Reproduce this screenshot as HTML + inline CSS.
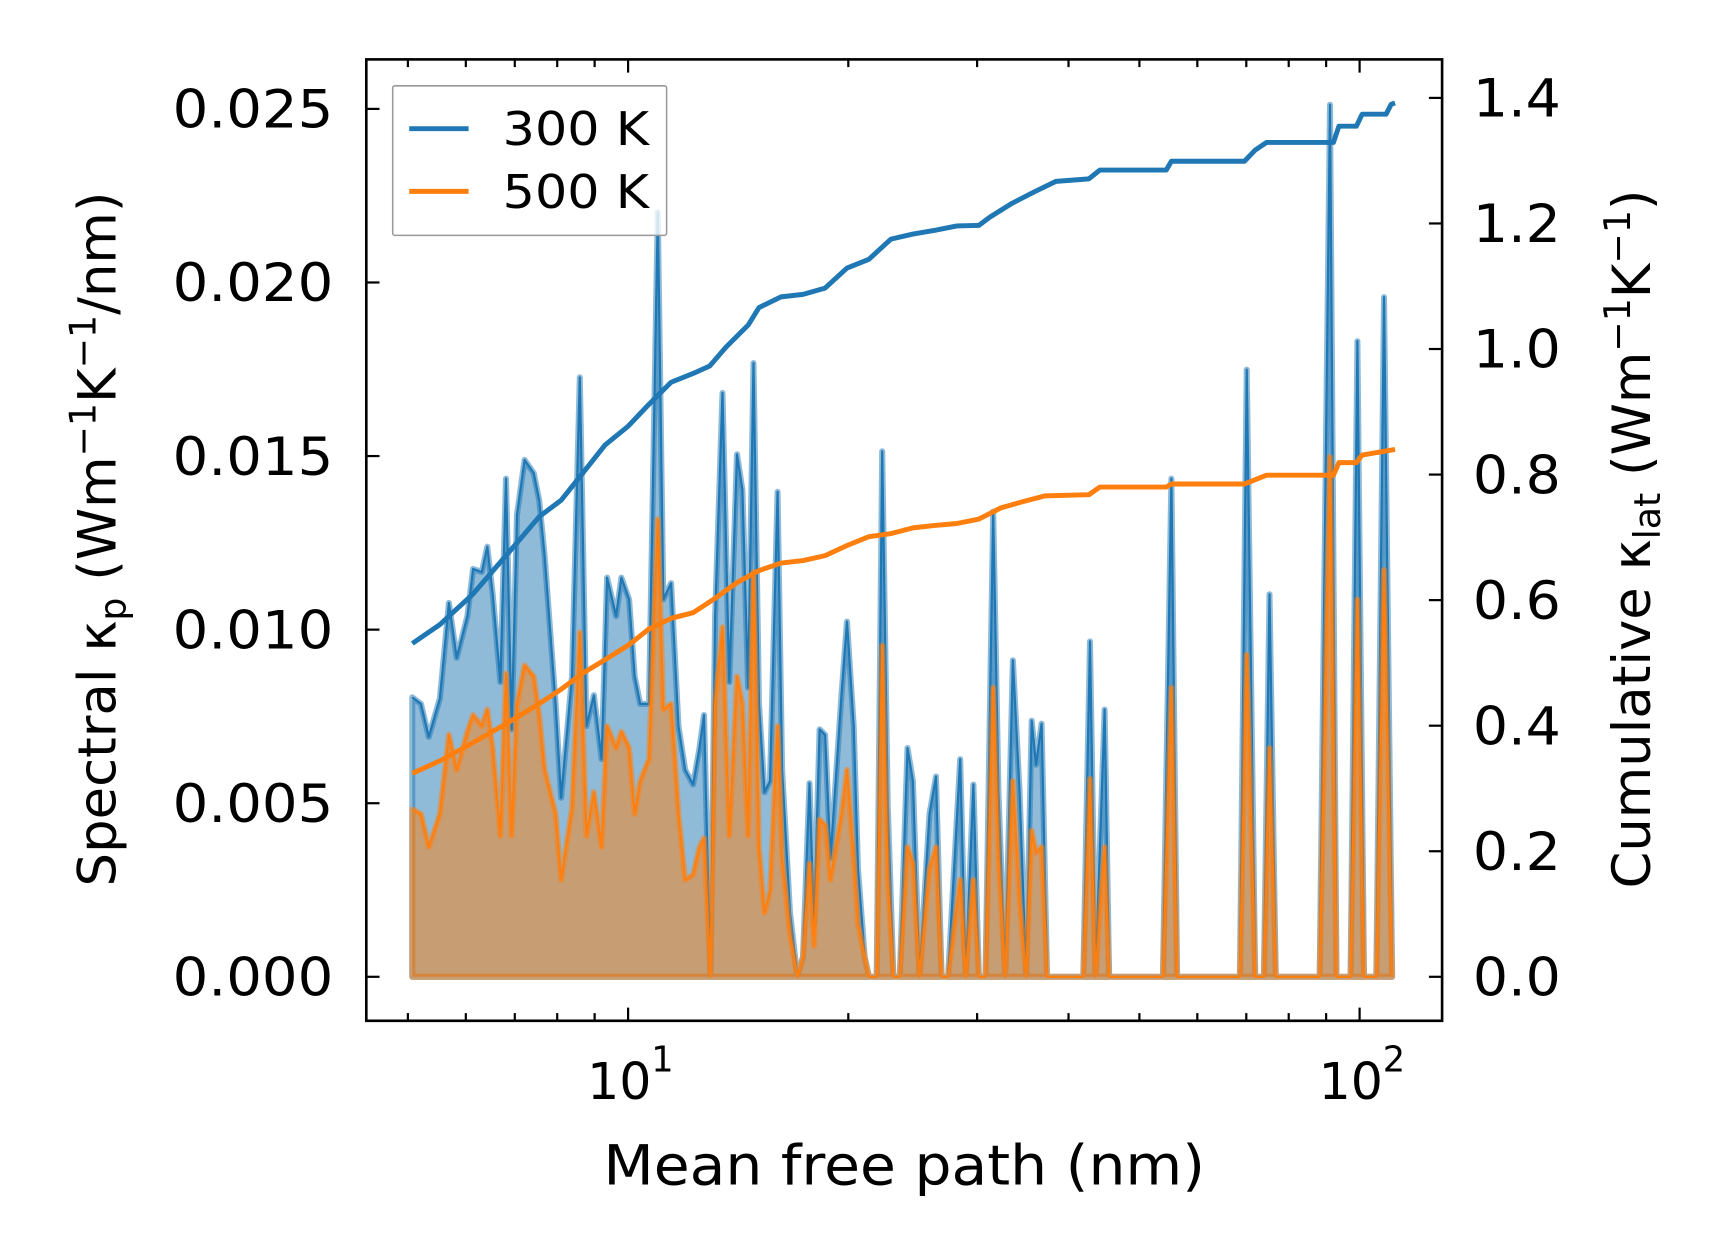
<!DOCTYPE html>
<html><head><meta charset="utf-8"><style>
html,body{margin:0;padding:0;background:#fff}
svg{display:block;font-family:"DejaVu Sans","Liberation Sans",sans-serif}
</style></head><body>
<svg id="chart" width="1716" height="1254" viewBox="0 0 1560 1140" xmlns="http://www.w3.org/2000/svg">
<g id="plot"></g>
<g id="axes"></g>
</svg>
<script>
const mfpSpec = [5.07,5.21,5.34,5.53,5.69,5.83,6.03,6.14,6.31,6.42,6.53,6.69,6.81,6.93,7.05,7.22,7.43,7.56,7.69,7.96,8.10,8.38,8.59,8.77,8.98,9.20,9.36,9.63,9.79,10.03,10.21,10.39,10.68,10.98,11.17,11.45,11.72,11.97,12.27,12.52,12.70,12.96,13.15,13.46,13.75,14.09,14.33,14.59,14.84,15.10,15.36,15.63,16.01,16.24,16.65,17.04,17.34,17.70,17.95,18.27,18.59,18.91,19.58,19.92,20.34,20.62,21.06,21.34,21.87,22.25,22.64,23.05,23.52,24.10,24.51,25.02,25.82,26.36,26.83,27.38,28.44,28.94,29.65,30.17,30.80,31.56,32.09,32.77,33.58,34.29,35.01,35.62,36.12,36.75,37.39,38.44,41.91,42.80,43.55,44.82,45.45,46.42,53.84,55.3,56.3,68.6,70.1,72.0,74.0,75.3,76.8,88.2,91.1,93.0,97.2,99.3,101.4,105.4,108.0,110.8];
const spec300 = [8.05,7.86,6.91,8.02,10.77,9.19,10.39,11.75,11.66,12.39,11.02,8.49,14.35,7.13,13.31,14.89,14.51,13.72,12.13,7.86,5.16,8.65,17.27,7.22,8.11,6.27,11.50,10.39,11.50,10.87,8.65,7.86,7.86,22.02,10.87,11.34,7.22,5.96,5.54,6.59,7.54,0,10.39,16.82,8.49,15.05,14.03,8.33,17.68,7.86,5.32,5.64,13.97,5.96,1.84,0,0.57,5.58,1.52,7.13,6.97,3.42,8.17,10.23,7.22,3.10,0.57,0,0,15.14,5.01,0,0,6.59,5.64,0,4.69,5.77,0,0,6.27,0,5.54,0,0,13.40,5.32,0,9.12,5.32,0,7.38,6.11,7.29,0,0,0,9.66,0,7.70,0,0,0,14.35,0,0,17.49,0,0,11.02,0,0,25.12,0,0,18.31,0,0,19.58,0];
const spec500 = [4.82,4.69,3.74,4.69,6.97,5.96,7.06,7.54,7.22,7.70,6.59,4.06,8.74,4.06,7.86,8.97,8.65,7.54,5.96,4.69,2.79,4.85,9.92,4.06,5.32,3.74,7.22,6.59,7.06,6.59,4.69,5.64,6.27,13.18,7.70,7.86,4.69,2.79,2.95,3.74,3.99,0,7.86,10.07,4.06,8.65,7.86,4.06,11.66,3.74,1.84,2.47,7.22,3.42,1.20,0,0.57,3.26,0.89,4.53,4.37,2.79,4.69,5.96,3.42,1.52,0.57,0,0,9.54,2.79,0,0,3.74,3.26,0,3.10,3.74,0,0,2.79,0,2.79,0,0,8.33,3.42,0,5.64,2.15,0,4.21,3.58,3.74,0,0,0,5.70,0,3.74,0,0,0,8.33,0,0,9.28,0,0,6.59,0,0,14.98,0,0,10.87,0,0,11.72,0];
const mfpCum300 = [5.07,5.53,6.14,6.81,7.56,8.10,8.68,9.30,10.0,10.68,10.98,11.45,12.27,12.93,13.61,14.59,15.10,16.18,17.34,18.59,19.92,21.34,22.87,24.51,26.27,28.15,30.17,31.23,33.47,35.87,38.44,42.65,44.15,54.4,55.3,69.6,72.0,74.6,92.1,93.7,99.0,100.8,108.7,110.5,111.8];
const cum300 = [0.531,0.561,0.610,0.671,0.733,0.759,0.803,0.847,0.877,0.912,0.926,0.947,0.961,0.973,1.003,1.038,1.066,1.083,1.087,1.097,1.129,1.143,1.175,1.183,1.189,1.196,1.197,1.210,1.232,1.250,1.267,1.271,1.285,1.285,1.299,1.299,1.317,1.329,1.329,1.355,1.355,1.374,1.374,1.390,1.392];
const mfpCum500 = [5.07,5.53,6.14,6.81,7.56,8.10,8.68,9.30,10.0,10.68,11.45,12.27,13.15,14.09,15.10,16.18,17.34,18.59,19.92,21.34,22.87,24.51,26.27,28.15,30.17,32.33,34.65,37.13,42.65,44.15,54.4,55.3,69.6,74.6,92.1,93.7,99.0,100.8,111.8];
const cum500 = [0.324,0.344,0.373,0.403,0.435,0.458,0.484,0.505,0.528,0.554,0.571,0.580,0.603,0.628,0.647,0.659,0.663,0.671,0.687,0.701,0.706,0.715,0.719,0.722,0.729,0.747,0.757,0.766,0.768,0.780,0.780,0.785,0.785,0.799,0.799,0.819,0.819,0.831,0.840];
const leftTicks = [0,0.005,0.010,0.015,0.020,0.025];
const leftLabels = ["0.000","0.005","0.010","0.015","0.020","0.025"];
const rightTicks = [0,0.2,0.4,0.6,0.8,1.0,1.2,1.4];
const rightLabels = ["0.0","0.2","0.4","0.6","0.8","1.0","1.2","1.4"];

const NS="http://www.w3.org/2000/svg";
const X0=333,X1=1311,Y0=54,Y1=928;
const xS=m=>571+665*Math.log10(m/10);
const yL=k=>888-k/0.025*(888-99);
const yR=c=>888-c/1.4*(888-89);
function mk(tag,attrs,parent){const e=document.createElementNS(NS,tag);for(const k in attrs)e.setAttribute(k,attrs[k]);parent.appendChild(e);return e;}
const plot=document.getElementById('plot'),axes=document.getElementById('axes');

function spectral(vals,color,name){
  const pts=mfpSpec.map((m,i)=>xS(m).toFixed(1)+','+yL(vals[i]/1000).toFixed(1));
  const poly=[xS(mfpSpec[0]).toFixed(1)+','+yL(0)].concat(pts,[xS(mfpSpec[mfpSpec.length-1]).toFixed(1)+','+yL(0)]).join(' ');
  const f=mk('polygon',{points:poly,fill:color,'fill-opacity':0.5,stroke:color,'stroke-opacity':0.5,'stroke-width':5.5,'stroke-linejoin':'round'},plot);
  
  
  const l=mk('polyline',{points:pts.join(' '),fill:'none',stroke:color,'stroke-width':2,'stroke-linejoin':'round'},plot);
  
  
}
spectral(spec300,'#1f77b4','spectral-300k');
spectral(spec500,'#ff7f0e','spectral-500k');
function cum(ms,vs,color,name){
  const pts=ms.map((m,i)=>xS(m).toFixed(1)+','+yR(vs[i]).toFixed(1)).join(' ');
  const l=mk('polyline',{points:pts,fill:'none',stroke:color,'stroke-width':4.5,'stroke-linejoin':'round'},plot);
  
  
}
cum(mfpCum300,cum300,'#1f77b4','cumulative-300k-line');
cum(mfpCum500,cum500,'#ff7f0e','cumulative-500k-line');

const fr=mk('rect',{x:X0,y:Y0,width:X1-X0,height:Y1-Y0,fill:'none',stroke:'#000','stroke-width':2.4},axes);


const xm=[];for(const dec of [1,10,100]){for(let j=1;j<=9;j++){const m=j*dec;if(m>=5&&m<=120)xm.push(m);}}
xm.forEach(m=>{const x=xS(m);const major=(m===10||m===100);const L=major?12:7;
  const t=mk('line',{x1:x,x2:x,y1:Y1,y2:Y1-L,stroke:'#000','stroke-width':2},axes);
  
  
  mk('line',{x1:x,x2:x,y1:Y0,y2:Y0+L,stroke:'#000','stroke-width':2},axes);
  if(major){const tx=mk('text',{x:x-8,y:999,'font-size':46,'text-anchor':'middle'},axes);
    tx.textContent='10';
    
    
    const sp=mk('text',{x:x+21,y:974,'font-size':32,'text-anchor':'start'},axes);sp.textContent=m===10?'1':'2';}
});
leftTicks.forEach((v,i)=>{const y=yL(v);
  mk('line',{x1:X0,x2:X0+12,y1:y,y2:y,stroke:'#000','stroke-width':2},axes);
  const t=mk('text',{x:303,y:y+17,'font-size':48,'text-anchor':'end','textLength':146,'lengthAdjust':'spacingAndGlyphs'},axes);t.textContent=leftLabels[i];
  
  
});
rightTicks.forEach((v,i)=>{const y=yR(v);
  mk('line',{x1:X1,x2:X1-12,y1:y,y2:y,stroke:'#000','stroke-width':2},axes);
  const t=mk('text',{x:1339,y:y+17,'font-size':48,'text-anchor':'start','textLength':80,'lengthAdjust':'spacingAndGlyphs'},axes);t.textContent=rightLabels[i];
  
  
});
</script>
<svg style="position:absolute;left:0;top:0" width="1716" height="1254" viewBox="0 0 1560 1140" xmlns="http://www.w3.org/2000/svg" font-family="DejaVu Sans, Liberation Sans, sans-serif">
<text x="822" y="1077" font-size="50" text-anchor="middle" textLength="547" lengthAdjust="spacingAndGlyphs">Mean free path (nm)</text>
<text transform="translate(105,490) rotate(-90)" font-size="48" text-anchor="middle">Spectral κ<tspan font-size="33" dy="9">p</tspan><tspan dy="-9"> (Wm</tspan><tspan font-size="33" dy="-18">−1</tspan><tspan dy="18">K</tspan><tspan font-size="33" dy="-18">−1</tspan><tspan dy="18">/nm)</tspan></text>
<text transform="translate(1500,490) rotate(-90)" font-size="48" text-anchor="middle">Cumulative κ<tspan font-size="33" dy="9">lat</tspan><tspan dy="-9"> (Wm</tspan><tspan font-size="33" dy="-18">−1</tspan><tspan dy="18">K</tspan><tspan font-size="33" dy="-18">−1</tspan><tspan dy="18">)</tspan></text>
<g>
<rect x="357" y="78" width="249" height="136" fill="#fff" fill-opacity="0.8" stroke="#999" stroke-width="1.4" rx="2"/>
<g><line x1="372" x2="426" y1="117" y2="117" stroke="#1f77b4" stroke-width="4.5"/><text x="457" y="132" font-size="42" textLength="133" lengthAdjust="spacingAndGlyphs">300 K</text></g>
<g><line x1="372" x2="426" y1="174" y2="174" stroke="#ff7f0e" stroke-width="4.5"/><text x="457" y="189" font-size="42" textLength="133" lengthAdjust="spacingAndGlyphs">500 K</text></g>
</g>
</svg>
</body></html>
